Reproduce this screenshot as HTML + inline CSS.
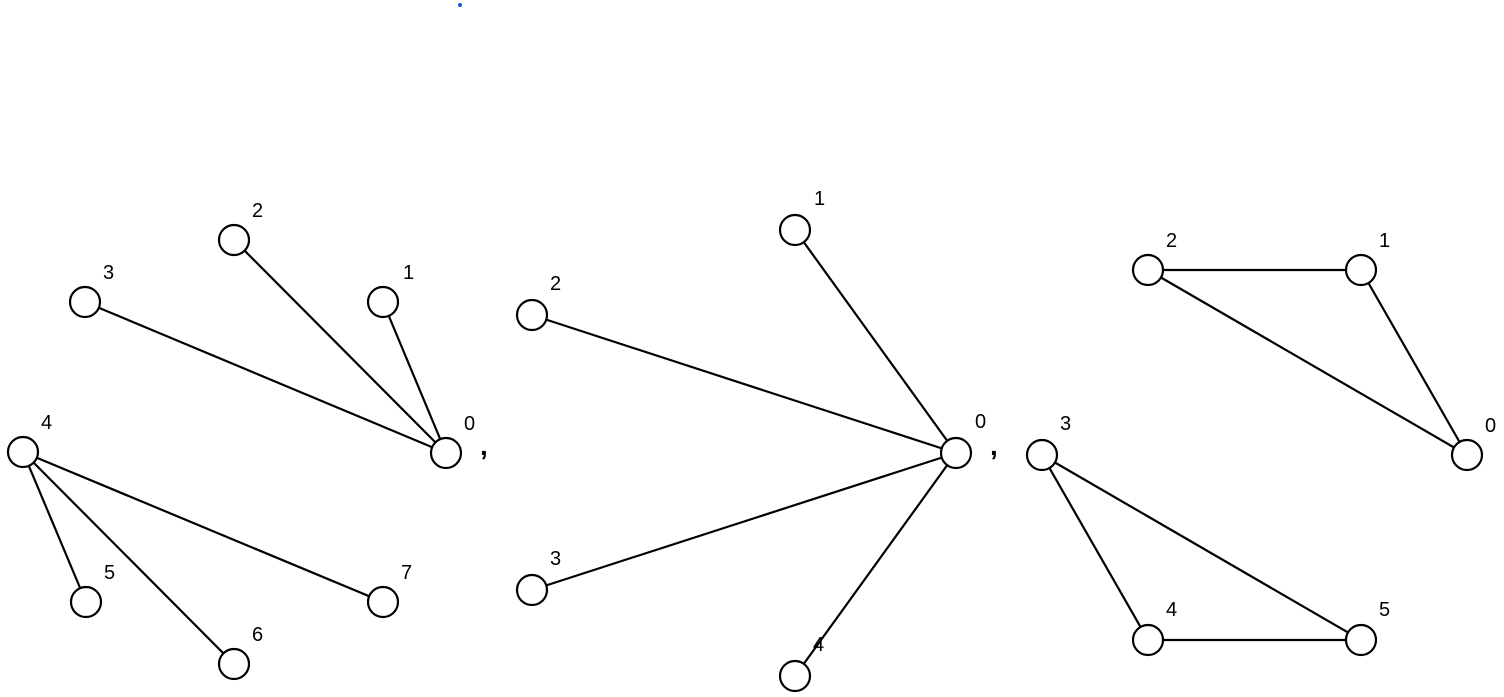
<!DOCTYPE html><html><head><style>body{margin:0;background:#fff}svg{display:block}</style></head><body>
<svg width="1504" height="697" xmlns="http://www.w3.org/2000/svg" font-family="Liberation Sans, sans-serif" font-size="20">
<circle cx="460" cy="5" r="2" fill="#1a56d6"/>
<g stroke="#000" stroke-width="2.2" fill="none">
<line x1="446" y1="453" x2="383" y2="302"/><line x1="446" y1="453" x2="234" y2="240"/><line x1="446" y1="453" x2="85" y2="302"/>
<line x1="23" y1="452" x2="86" y2="602"/><line x1="23" y1="452" x2="234" y2="664"/><line x1="23" y1="452" x2="383" y2="602"/>
<line x1="956" y1="453" x2="795" y2="230"/><line x1="956" y1="453" x2="532" y2="315"/><line x1="956" y1="453" x2="532" y2="590"/><line x1="956" y1="453" x2="795" y2="676"/>
<line x1="1148" y1="270" x2="1361" y2="270"/><line x1="1148" y1="270" x2="1467" y2="455"/><line x1="1361" y1="270" x2="1467" y2="455"/>
<line x1="1042" y1="455" x2="1148" y2="640"/><line x1="1042" y1="455" x2="1361" y2="640"/><line x1="1148" y1="640" x2="1361" y2="640"/>
</g>
<g stroke="#000" stroke-width="2.2" fill="#fff">
<circle cx="446" cy="453" r="15"/><circle cx="383" cy="302" r="15"/><circle cx="234" cy="240" r="15"/><circle cx="85" cy="302" r="15"/>
<circle cx="23" cy="452" r="15"/><circle cx="86" cy="602" r="15"/><circle cx="234" cy="664" r="15"/><circle cx="383" cy="602" r="15"/>
<circle cx="956" cy="453" r="15"/><circle cx="795" cy="230" r="15"/><circle cx="532" cy="315" r="15"/><circle cx="532" cy="590" r="15"/><circle cx="795" cy="676" r="15"/>
<circle cx="1148" cy="270" r="15"/><circle cx="1361" cy="270" r="15"/><circle cx="1467" cy="455" r="15"/><circle cx="1042" cy="455" r="15"/><circle cx="1148" cy="640" r="15"/><circle cx="1361" cy="640" r="15"/>
</g>
<g fill="#000">
<text x="464" y="430">0</text><text x="403" y="279">1</text><text x="252" y="217">2</text><text x="103" y="279">3</text>
<text x="41" y="429">4</text><text x="104" y="579">5</text><text x="252" y="641">6</text><text x="401" y="579">7</text>
<text x="975" y="428">0</text><text x="814" y="205">1</text><text x="550" y="290">2</text><text x="550" y="565">3</text><text x="813" y="651">4</text>
<text x="1166" y="247">2</text><text x="1379" y="247">1</text><text x="1485" y="432">0</text><text x="1060" y="430">3</text><text x="1166" y="616">4</text><text x="1379" y="616">5</text>
<text x="480" y="455" font-size="28" font-weight="bold">,</text><text x="990" y="455" font-size="28" font-weight="bold">,</text>
</g>
</svg></body></html>
